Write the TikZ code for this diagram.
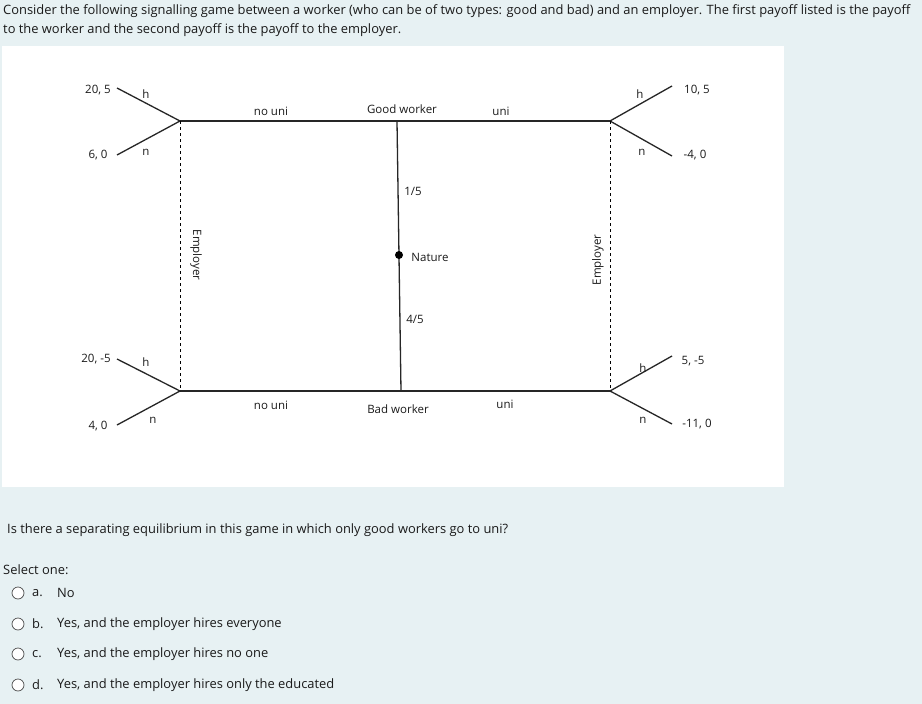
\documentclass[tikz,border=0pt]{standalone}
\usepackage{fontspec}
\setmainfont{Open Sans}
\definecolor{bg}{HTML}{E7F1F3}
\definecolor{txt}{HTML}{1A1A1A}
\begin{document}
\begin{tikzpicture}[x=1pt,y=-1pt,
  lbl/.style={font=\fontsize{11.5}{12}\selectfont,text=txt,inner sep=0},
  qt/.style={font=\fontsize{12.9}{15}\selectfont,text=txt,inner sep=0,anchor=west},
  ln/.style={line width=1.3pt,black!85},
  dsh/.style={dashed,line width=0.9pt}]
\useasboundingbox (0,0) rectangle (922,704);
\fill[bg] (0,0) rectangle (922,704);
\fill[white] (2,46) rectangle (784,487);
\node[qt] (t1) at (3,11) {Consider the following signalling game between a worker (who can be of two types: good and bad) and an employer. The first payoff listed is the payoff};
\node[qt] (t2) at (3,30) {to the worker and the second payoff is the payoff to the employer.};
% tree
\coordinate (gl) at (180,121); \coordinate (gr) at (610,121);
\coordinate (bl) at (180,391); \coordinate (br) at (610,391);
\coordinate (gm) at (397,121); \coordinate (bm) at (401,391);
\draw[ln] (gl) -- (gr); \draw[ln] (bl) -- (br); \draw[ln] (gm) -- (bm);
\fill (399,255) circle (4);
\coordinate (a1) at (117,88); \coordinate (a2) at (117,155);
\coordinate (a3) at (117,359); \coordinate (a4) at (117,425);
\coordinate (b1) at (672,86); \coordinate (b2) at (672,156);
\coordinate (b3) at (672,356); \coordinate (b4) at (672,424);
\draw[ln] (a1) -- (gl) -- (a2); \draw[ln] (a3) -- (bl) -- (a4);
\draw[ln] (b1) -- (gr) -- (b2); \draw[ln] (b3) -- (br) -- (b4);
\draw[dsh] (gl) -- (bl); \draw[dsh] (gr) -- (br);
\node[lbl] (n1) at (413,191) {1/5};
\node[lbl] (n2) at (430,257) {Nature};
\node[lbl] (n3) at (415,319) {4/5};
\node[lbl] (n4) at (402,109) {Good worker};
\node[lbl] (n5) at (271,111) {no uni};
\node[lbl] (n6) at (501,111) {uni};
\node[lbl] (n7) at (398,409) {Bad worker};
\node[lbl] (n8) at (271,405) {no uni};
\node[lbl] (n9) at (505,404) {uni};
\node[lbl] (p1) at (98,90) {20, 5};
\node[lbl] (p2) at (98,155) {6, 0};
\node[lbl] (p3) at (96,359) {20, -5};
\node[lbl] (p4) at (98,426) {4, 0};
\node[lbl] (p5) at (697,90) {10, 5};
\node[lbl] (p6) at (695,155) {-4, 0};
\node[lbl] (p7) at (693,361) {5, -5};
\node[lbl] (p8) at (697,424) {-11, 0};
\node[lbl] (h1) at (146,94) {h}; \node[lbl] (m1) at (146,152) {n};
\node[lbl] (h2) at (146,362) {h}; \node[lbl] (m2) at (153,420) {n};
\node[lbl] (h3) at (640,94) {h}; \node[lbl] (m3) at (642,152) {n};
\node[lbl] (h4) at (643,368) {h}; \node[lbl] (m4) at (643,420) {n};
\node[lbl,rotate=-90] (e1) at (196,255) {Employer};
\node[lbl,rotate=90] (e2) at (598,260) {Employer};
% question
\node[qt] (q) at (7,530) {Is there a separating equilibrium in this game in which only good workers go to uni?};
\node[qt] (s) at (3,570) {Select one:};
\foreach \y/\l/\t [count=\i] in {593/a./{No},624/b./{Yes, and the employer hires everyone},654/c./{Yes, and the employer hires no one},685/d./{Yes, and the employer hires only the educated}}{
  \draw[black!70,fill=white,line width=0.7pt] (18,\y) circle (6);
  \node[qt] (l\i) at (32,\y) {\l};
  \node[qt] (o\i) at (57,\y) {\t};
}
\end{tikzpicture}
\end{document}
